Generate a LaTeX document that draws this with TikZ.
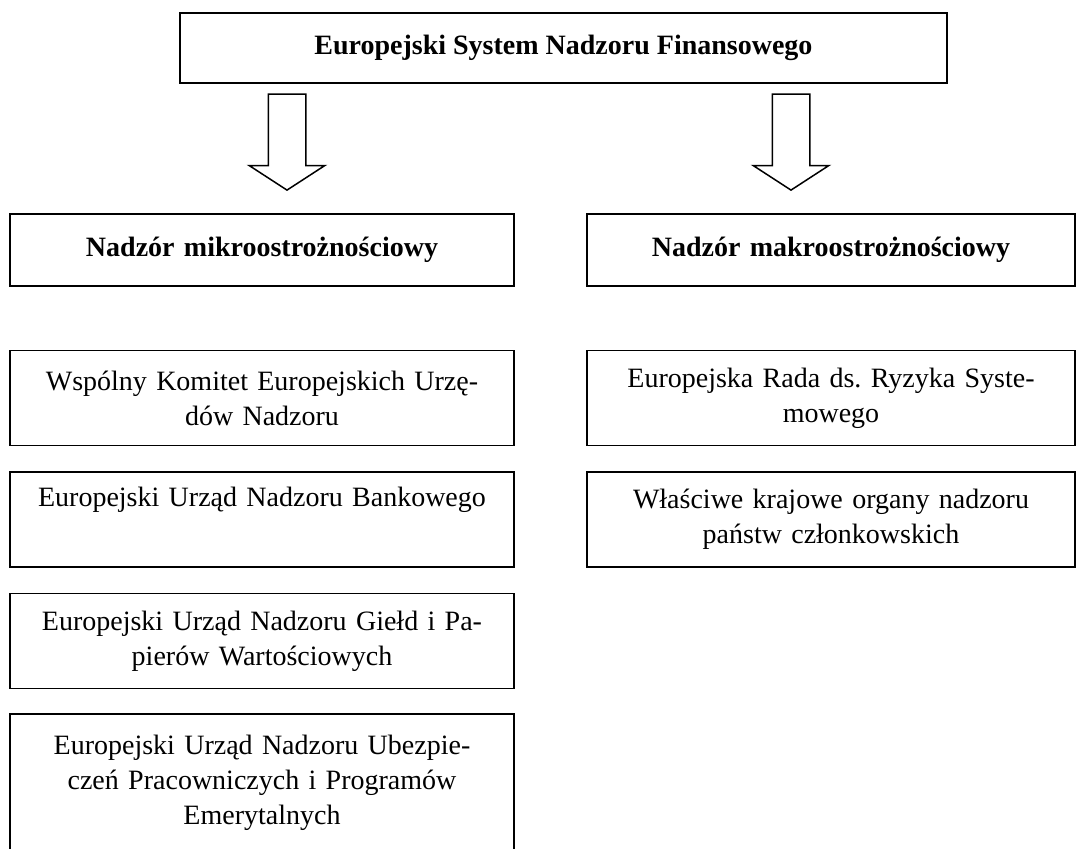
\documentclass[tikz,border=0pt]{standalone}
\usepackage{fontspec}
\setmainfont{Liberation Serif}
\usepackage{tikz}
\usetikzlibrary{shapes.arrows, positioning}
\frenchspacing
\newcommand{\esnffont}{\fontsize{14}{17.5}\selectfont}
\tikzstyle{mainbox} = [rectangle, draw=black, line width=1.25pt, minimum width=383.5pt, minimum height=35pt, text centered, font=\esnffont\bfseries]
\tikzstyle{levelbox} = [rectangle, draw=black, line width=0.75pt, minimum height=36pt, inner xsep=5pt, align=center, font=\esnffont\bfseries]
\tikzstyle{itembox} = [rectangle, draw=black, line width=0.75pt, minimum height=47.5pt, inner xsep=5pt, inner ysep=0pt, align=center, font=\esnffont]
\tikzstyle{leftcol} = [text width=242pt]
\tikzstyle{rightcol} = [text width=234pt]
\tikzstyle{blockarrow} = [single arrow, draw=black, line width=0.75pt, rotate=-90, minimum height=48pt, minimum width=37pt, single arrow head extend=9.5pt, single arrow tip angle=114, inner xsep=0pt, inner ysep=9pt]
\begin{document}
\begin{tikzpicture}[x=0.5pt, y=-0.5pt]
    \useasboundingbox (0,0) rectangle (1077,848);
    % System
    \node[mainbox] (esnf) at (563.5,48) {Europejski System Nadzoru Finansowego};
    \node[blockarrow] (arrmikro) at (287,136) {};
    \node[blockarrow] (arrmakro) at (791,136) {};

    % Nadzor
    \node[levelbox, leftcol] (mikro) at (262,250) {Nadzór mikroostrożnościowy};
    \node[levelbox, rightcol] (makro) at (831,250) {Nadzór makroostrożnościowy};

    % Mikro
    \node[itembox, leftcol, below=31.5pt of mikro] (wspolny) {Wspólny Komitet Europejskich Urzę-\\dów Nadzoru};
    \node[itembox, leftcol, below=12.5pt of wspolny] (bank) {Europejski Urząd Nadzoru Bankowego\\\strut};
    \node[itembox, leftcol, below=12.5pt of bank] (gield) {Europejski Urząd Nadzoru Giełd i Pa-\\pierów Wartościowych};
    \node[itembox, leftcol, below=12pt of gield, minimum height=69pt] (ubezp) {Europejski Urząd Nadzoru Ubezpie-\\czeń Pracowniczych i Programów\\Emerytalnych};

    % Makro
    \node[itembox, rightcol, below=31.5pt of makro] (rada) {Europejska Rada ds. Ryzyka Syste-\\mowego};
    \node[itembox, rightcol, below=12.5pt of rada] (krajowe) {Właściwe krajowe organy nadzoru\\państw członkowskich};
\end{tikzpicture}
\end{document}
